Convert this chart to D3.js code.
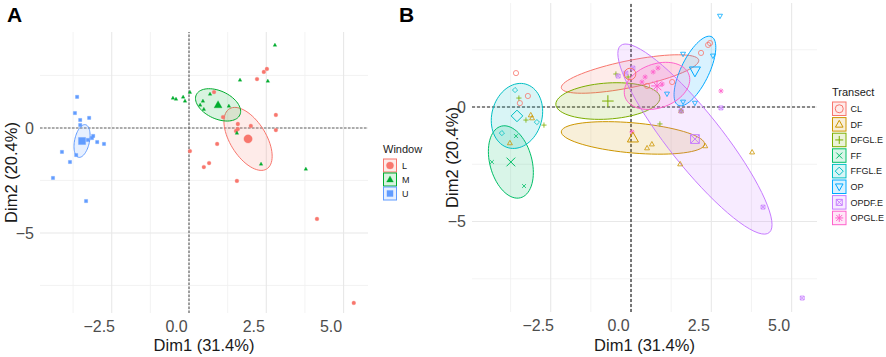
<!DOCTYPE html>
<html>
<head>
<meta charset="utf-8">
<script src="https://cdn.jsdelivr.net/npm/d3@7"></script>
<style>
  body { margin: 0; background: #fff; }
  svg { font-family: "Liberation Sans", Arial, sans-serif; }
</style>
</head>
<body>
<svg width="886" height="357"></svg>
<script>
// ---- panel A data (Window) ----
let windowNames = ["L", "M", "U"]
let windowColors = ["#F8766D", "#00AD2E", "#619CFF"]
let windowL = [[0.81,1.71],[1.10,0.52],[1.58,0.19],[2.00,0.10],[1.52,-0.14],[1.58,-0.05],[0.91,-0.76],[0.03,-1.10],[0.65,-1.67],[0.48,-1.86],[2.20,2.33],[2.42,2.67],[2.52,2.81],[2.81,0.62],[2.81,-0.10],[1.55,-2.52],[4.14,-4.33],[5.33,-8.33]]
let windowM = [[-0.52,1.43],[-0.42,1.38],[-0.19,1.48],[-0.13,1.29],[0.03,1.71],[0.45,1.29],[0.36,1.10],[0.48,0.90],[0.68,1.62],[1.29,1.05],[1.65,2.29],[2.55,2.24],[2.78,3.95],[1.55,-0.24],[2.33,-1.71],[3.78,-1.95]]
let windowU = [[-3.62,1.48],[-3.69,0.71],[-3.23,0.48],[-3.52,0.38],[-3.52,0.14],[-3.10,-0.38],[-3.14,-0.48],[-3.27,-0.57],[-2.97,-0.67],[-2.75,-0.76],[-4.11,-1.14],[-3.65,-1.29],[-3.85,-1.62],[-4.40,-2.38],[-3.33,-3.48]]
let windowCentroids = [[1.91,-0.52],[0.94,1.10],[-3.46,-0.62]]
// ellipse: half width x, half width y, correlation
let windowEllipses = [[0.78,1.50,-0.55],[0.73,0.77,-0.40],[0.26,0.78,0.34]]

// ---- panel B data (Transect) ----
let transectNames = ["CL", "DF", "DFGL.E", "FF", "FFGL.E", "OP", "OPDF.E", "OPGL.E"]
let transectColors = ["#F8766D", "#CD9600", "#7CAE00", "#00BE67", "#00BFC4", "#00A9FF", "#C77CFF", "#FF61CC"]
let transectShapes = ["circle", "triangle", "plus", "cross", "diamond", "down", "squarex", "asterisk"]
let tCL = [[-3.58,1.48],[-3.21,0.48],[-3.46,0.17],[2.40,2.71],[2.46,2.79],[2.18,2.36],[1.28,1.09],[0.50,0.92]]
let tDF = [[-3.12,-0.35],[-3.08,-0.48],[-3.77,-1.57],[0.50,-1.79],[0.65,-1.62],[2.31,-1.70],[3.77,-1.97],[1.53,-2.49],[1.56,-0.17]]
let tDFGL = [[-3.49,0.39],[-3.27,-0.57],[-2.71,-0.79],[-0.47,1.44],[-0.09,1.31],[0.90,-0.74],[1.56,-0.17]]
let tFF = [[-3.58,-1.27],[-4.33,-2.40],[-3.33,-3.45]]
let tFFGL = [[-3.61,0.74],[-2.93,-0.66],[-4.02,-1.14]]
let tOP = [[2.77,3.97],[2.55,2.23],[1.62,2.31],[1.12,0.57],[1.62,0.22],[1.99,0.17]]
let tOPDF = [[-0.40,1.35],[-0.16,1.48],[0.06,1.70],[2.80,-0.04],[1.56,-0.17],[4.11,-4.37],[5.33,-8.34]]
let tOPGL = [[0.44,1.31],[0.34,1.09],[0.69,1.53],[0.84,1.70],[0.97,1.00],[2.80,0.70],[0.03,-1.09]]
let transectCentroids = [[-0.03,1.44],[0.06,-1.35],[-0.72,0.26],[-3.74,-2.40],[-3.55,-0.39],[1.99,1.57],[1.99,-1.40],[0.81,0.92]]
let transectEllipses = [[2.14,0.84,0.70],[2.23,0.71,-0.37],[1.62,0.80,0.17],[0.70,1.58,-0.29],[0.80,1.42,0.14],[0.65,1.52,0.68],[2.40,4.15,-0.90],[1.02,1.03,0.27]]

// ticks
let xTicks = [-2.5, 0, 2.5, 5]
let xMinor = [-3.75, -1.25, 1.25, 3.75]
let yTicks = [-5, 0]
let yMinor = [-7.5, -2.5, 2.5]

let svg = d3.select('svg')

// symbol paths, s = half size
function shapePath(shape, s) {
  let p = d3.path()
  if (shape == "circle") { p.moveTo(s, 0); p.arc(0, 0, s, 0, 2 * Math.PI) }
  if (shape == "triangle") { p.moveTo(0, -s); p.lineTo(s * 0.95, s * 0.7); p.lineTo(-s * 0.95, s * 0.7); p.closePath() }
  if (shape == "down") { p.moveTo(0, s); p.lineTo(s * 0.95, -s * 0.7); p.lineTo(-s * 0.95, -s * 0.7); p.closePath() }
  if (shape == "square") { p.rect(-s * 0.85, -s * 0.85, s * 1.7, s * 1.7) }
  if (shape == "diamond") { p.moveTo(0, -s); p.lineTo(s, 0); p.lineTo(0, s); p.lineTo(-s, 0); p.closePath() }
  if (shape == "plus" || shape == "asterisk") { p.moveTo(-s, 0); p.lineTo(s, 0); p.moveTo(0, -s); p.lineTo(0, s) }
  if (shape == "cross" || shape == "asterisk" || shape == "squarex") {
    let c = s * 0.75
    p.moveTo(-c, -c); p.lineTo(c, c); p.moveTo(-c, c); p.lineTo(c, -c)
  }
  if (shape == "squarex") { let c = s * 0.75; p.rect(-c, -c, 2 * c, 2 * c) }
  return p.toString()
}

function ellipsePoints(c, e) {
  let pts = []
  let k = Math.sqrt(1 - e[2] * e[2])
  for (let i = 0; i < 72; i++) {
    let t = i / 72 * 2 * Math.PI
    pts.push([c[0] + e[0] * Math.cos(t), c[1] + e[1] * (e[2] * Math.cos(t) + k * Math.sin(t))])
  }
  return pts
}

function panel(opt) {
  let x = d3.scaleLinear().domain(opt.xDomain).range(opt.xRange)
  let y = d3.scaleLinear().domain(opt.yDomain).range(opt.yRange)
  let g = svg.append('g')

  // grid
  g.selectAll('.vminor').data(xMinor).enter().append('line')
    .attr('x1', d => x(d)).attr('x2', d => x(d))
    .attr('y1', opt.yRange[0]).attr('y2', opt.yRange[1])
    .attr('stroke', '#f0f0f0').attr('stroke-width', 0.8)
  g.selectAll('.hminor').data(yMinor).enter().append('line')
    .attr('y1', d => y(d)).attr('y2', d => y(d))
    .attr('x1', opt.xRange[0]).attr('x2', opt.xRange[1])
    .attr('stroke', '#f0f0f0').attr('stroke-width', 0.8)
  g.selectAll('.vmajor').data(xTicks).enter().append('line')
    .attr('x1', d => x(d)).attr('x2', d => x(d))
    .attr('y1', opt.yRange[0]).attr('y2', opt.yRange[1])
    .attr('stroke', '#e8e8e8').attr('stroke-width', 1.1)
  g.selectAll('.hmajor').data(yTicks).enter().append('line')
    .attr('y1', d => y(d)).attr('y2', d => y(d))
    .attr('x1', opt.xRange[0]).attr('x2', opt.xRange[1])
    .attr('stroke', '#e8e8e8').attr('stroke-width', 1.1)

  // axes (tick text only)
  let xAxis = g.append('g').attr('transform', 'translate(0,' + opt.yRange[0] + ')')
    .call(d3.axisBottom(x).tickValues(xTicks).tickFormat(d3.format('.1f')).tickSize(0).tickPadding(8))
  let yAxis = g.append('g').attr('transform', 'translate(' + opt.xRange[0] + ',0)')
    .call(d3.axisLeft(y).tickValues(yTicks).tickFormat(d3.format('d')).tickSize(0).tickPadding(6))
  g.selectAll('.domain').remove()
  g.selectAll('.tick text').attr('font-size', 16).attr('fill', '#4d4d4d')
    .style('font-family', '"Liberation Sans", Arial, sans-serif')
  xAxis.selectAll('.tick text').attr('dx', -13)

  // zero lines
  g.append('line').attr('x1', opt.xRange[0]).attr('x2', opt.xRange[1])
    .attr('y1', y(0)).attr('y2', y(0))
    .attr('stroke', opt.zeroColor).attr('stroke-width', 1.2).attr('stroke-dasharray', opt.dash)
  g.append('line').attr('y1', opt.yRange[0]).attr('y2', opt.yRange[1])
    .attr('x1', x(0)).attr('x2', x(0))
    .attr('stroke', opt.zeroColor).attr('stroke-width', 1.2).attr('stroke-dasharray', opt.dash)

  // ellipses
  let line = d3.line().x(d => x(d[0])).y(d => y(d[1])).curve(d3.curveLinearClosed)
  opt.centroids.forEach((c, i) => {
    g.append('path').attr('d', line(ellipsePoints(c, opt.ellipses[i])))
      .attr('fill', opt.colors[i]).attr('fill-opacity', 0.15)
      .attr('stroke', opt.colors[i]).attr('stroke-width', 1)
  })

  // points
  opt.groups.forEach((pts, i) => {
    let filled = opt.filled
    g.selectAll(null).data(pts).enter().append('path')
      .attr('transform', d => 'translate(' + x(d[0]) + ',' + y(d[1]) + ')')
      .attr('d', shapePath(opt.shapes[i], opt.size))
      .attr('fill', filled ? opt.colors[i] : 'none')
      .attr('stroke', opt.colors[i]).attr('stroke-width', filled ? 0.3 : 0.8)
  })
  g.selectAll(null).data(opt.centroids).enter().append('path')
    .attr('transform', d => 'translate(' + x(d[0]) + ',' + y(d[1]) + ')')
    .attr('d', (d, i) => shapePath(opt.shapes[i], opt.bigSize))
    .attr('fill', (d, i) => opt.filled ? opt.colors[i] : 'none')
    .attr('stroke', (d, i) => opt.colors[i]).attr('stroke-width', opt.filled ? 0.3 : 1)

  // axis titles
  g.append('text').attr('x', (opt.xRange[0] + opt.xRange[1]) / 2).attr('y', 351)
    .attr('text-anchor', 'middle').attr('font-size', 16.5).attr('fill', '#1a1a1a')
    .text('Dim1 (31.4%)')
  g.append('text')
    .attr('transform', 'translate(' + opt.yTitleX + ',' + ((opt.yRange[0] + opt.yRange[1]) / 2) + ') rotate(-90)')
    .attr('text-anchor', 'middle').attr('dy', '0.35em').attr('font-size', 16.5).attr('fill', '#1a1a1a')
    .text('Dim2 (20.4%)')

  // panel letter
  g.append('text').attr('x', opt.letterX).attr('y', 22).attr('font-size', 21)
    .attr('font-weight', 'bold').text(opt.letter)

  // legend
  let lg = g.append('g')
  lg.append('text').attr('x', opt.legX).attr('y', opt.legY - 6).attr('font-size', opt.legTitleSize)
    .attr('fill', '#1a1a1a').text(opt.legTitle)
  opt.names.forEach((n, i) => {
    let ky = opt.legY + i * opt.legStep
    lg.append('rect').attr('x', opt.legX + 0.5).attr('y', ky).attr('width', opt.keySize).attr('height', opt.keySize)
      .attr('fill', opt.colors[i]).attr('fill-opacity', 0.15)
      .attr('stroke', opt.colors[i]).attr('stroke-width', 1)
    lg.append('path')
      .attr('transform', 'translate(' + (opt.legX + 0.5 + opt.keySize / 2) + ',' + (ky + opt.keySize / 2) + ')')
      .attr('d', shapePath(opt.shapes[i], opt.keySym))
      .attr('fill', opt.filled ? opt.colors[i] : 'none')
      .attr('stroke', opt.colors[i]).attr('stroke-width', opt.filled ? 0.3 : 1)
    lg.append('text').attr('x', opt.legX + opt.keySize + opt.labelGap).attr('y', ky + opt.keySize / 2)
      .attr('dy', '0.35em').attr('font-size', opt.legLabelSize).attr('fill', '#1a1a1a').text(n)
  })
}

panel({
  xDomain: [-4.82, 5.79], xRange: [40, 368],
  yDomain: [-8.81, 4.57], yRange: [313, 32],
  zeroColor: '#666', dash: '2.5,1.5',
  groups: [windowL, windowM, windowU], centroids: windowCentroids, ellipses: windowEllipses,
  colors: windowColors, shapes: ["circle", "triangle", "square"], filled: true,
  size: 1.9, bigSize: 4.2,
  yTitleX: 11, letter: 'A', letterX: 7,
  names: windowNames, legTitle: 'Window', legX: 383, legY: 159, legStep: 14, keySize: 13, keySym: 3.6,
  legTitleSize: 11, legLabelSize: 9, labelGap: 6
})

panel({
  xDomain: [-4.95, 5.79], xRange: [472, 817],
  yDomain: [-8.95, 4.54], yRange: [312, 3],
  zeroColor: '#222', dash: '3,2',
  groups: [tCL, tDF, tDFGL, tFF, tFFGL, tOP, tOPDF, tOPGL], centroids: transectCentroids, ellipses: transectEllipses,
  colors: transectColors, shapes: transectShapes, filled: false,
  size: 2.6, bigSize: 5.8,
  yTitleX: 452, letter: 'B', letterX: 399,
  names: transectNames, legTitle: 'Transect', legX: 832, legY: 102, legStep: 15.6, keySize: 13.5, keySym: 4,
  legTitleSize: 11, legLabelSize: 9, labelGap: 5
})
</script>
</body>
</html>
